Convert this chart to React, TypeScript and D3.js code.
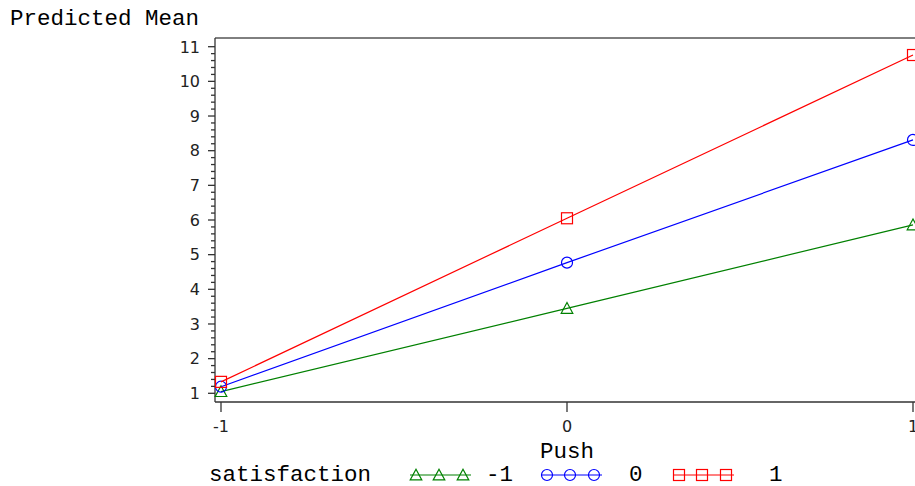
import React from "react";
import * as d3 from "d3";

const pushLevels = [-1, 0, 1];
const satisfactionLevels = ["-1", "0", "1"];
const meansSatNeg1 = [1.05, 3.45, 5.86];
const meansSat0 = [1.19, 4.77, 8.31];
const meansSat1 = [1.33, 6.05, 10.76];
const yTicks = [1, 2, 3, 4, 5, 6, 7, 8, 9, 10, 11];
const xTicks = [-1, 0, 1];

const W = 915;
const H = 486;
const frameL = 215;
const frameR = 919;
const frameT = 38;
const frameB = 402;

const series = [
  { name: satisfactionLevels[0], values: meansSatNeg1, color: "#008000", symbol: "triangle" },
  { name: satisfactionLevels[1], values: meansSat0, color: "#0000FF", symbol: "circle" },
  { name: satisfactionLevels[2], values: meansSat1, color: "#FF0000", symbol: "square" },
];

const mono = "'Liberation Mono', 'DejaVu Sans Mono', monospace";
const sans = "'DejaVu Sans', sans-serif";

function Marker({ x, y, symbol, color }: { x: number; y: number; symbol: string; color: string }) {
  if (symbol === "circle") return <circle cx={x} cy={y} r={5.5} fill="none" stroke={color} strokeWidth={1.2} />;
  if (symbol === "square") return <rect x={x - 5.5} y={y - 5.5} width={11} height={11} fill="none" stroke={color} strokeWidth={1.2} />;
  const s = 5.8;
  return (
    <path
      d={`M${x},${y - s} L${x + s},${y + s * 0.85} L${x - s},${y + s * 0.85} Z`}
      fill="none"
      stroke={color}
      strokeWidth={1.2}
    />
  );
}

export default function App() {
  const x = d3.scaleLinear().domain([-1, 1]).range([221, 913]);
  const y = d3.scaleLinear().domain([1, 11]).range([393.3, 46.7]);
  const minor: number[] = [];
  for (let v = 1; v < 11; v++) for (let k = 1; k < 5; k++) minor.push(v + k / 5);
  const line = d3
    .line<number>()
    .x((_, i) => x(pushLevels[i]))
    .y((d) => y(d));

  const legendItems = [
    { start: 410, label: 486 },
    { start: 541, label: 629 },
    { start: 673, label: 769 },
  ];
  const legendY = 475;

  return (
    <svg width={W} height={H} style={{ position: "absolute", left: 0, top: 0, background: "#fff" }}>
      <text x={10} y={25} fontFamily={mono} fontSize={22.5} fill="#000">
        Predicted Mean
      </text>
      {/* frame */}
      <line x1={frameL} x2={frameR} y1={frameT} y2={frameT} stroke="#000" strokeWidth={1} />
      <line x1={frameR} x2={frameR} y1={frameT} y2={frameB} stroke="#000" strokeWidth={1} />
      <line x1={frameL} x2={frameL} y1={frameT} y2={frameB} stroke="#333" strokeWidth={1.3} />
      <line x1={frameL} x2={frameR} y1={frameB} y2={frameB} stroke="#333" strokeWidth={1.3} />
      {/* y ticks */}
      {yTicks.map((t) => (
        <g key={"y" + t}>
          <line x1={208} x2={frameL} y1={y(t)} y2={y(t)} stroke="#333" strokeWidth={1.3} />
          <text x={200} y={y(t) + 5.8} textAnchor="end" fontFamily={sans} fontSize={16} fill="#222">
            {t}
          </text>
        </g>
      ))}
      {minor.map((t) => (
        <line key={"m" + t} x1={211} x2={frameL} y1={y(t)} y2={y(t)} stroke="#333" strokeWidth={1.3} />
      ))}
      {/* x ticks */}
      {xTicks.map((t) => (
        <g key={"x" + t}>
          <line x1={x(t)} x2={x(t)} y1={frameB} y2={412} stroke="#333" strokeWidth={1.3} />
          <text x={x(t)} y={432} textAnchor="middle" fontFamily={sans} fontSize={16} fill="#222">
            {t}
          </text>
        </g>
      ))}
      <text x={(frameL + frameR) / 2} y={458} textAnchor="middle" fontFamily={mono} fontSize={22.5} fill="#000">
        Push
      </text>
      {/* series */}
      {series.map((s) => (
        <g key={s.name}>
          <path d={line(s.values) || ""} fill="none" stroke={s.color} strokeWidth={1.2} />
          {s.values.map((v, i) => (
            <Marker key={i} x={x(pushLevels[i])} y={y(v)} symbol={s.symbol} color={s.color} />
          ))}
        </g>
      ))}
      {/* legend */}
      <text x={209} y={481} fontFamily={mono} fontSize={22.5} fill="#000">
        satisfaction
      </text>
      {series.map((s, i) => {
        const it = legendItems[i];
        return (
          <g key={"l" + s.name}>
            <line x1={it.start} x2={it.start + 61} y1={legendY} y2={legendY} stroke={s.color} strokeWidth={1.2} />
            {[6, 29, 53].map((dx) => (
              <Marker key={dx} x={it.start + dx} y={legendY} symbol={s.symbol} color={s.color} />
            ))}
            <text x={it.label} y={481} fontFamily={mono} fontSize={22.5} fill="#000">
              {s.name}
            </text>
          </g>
        );
      })}
    </svg>
  );
}
